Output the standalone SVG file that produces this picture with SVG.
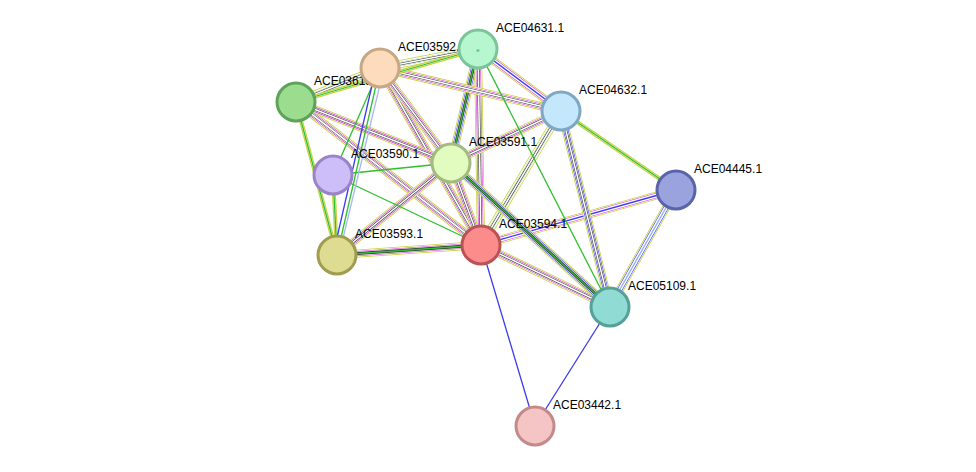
<svg xmlns="http://www.w3.org/2000/svg" xmlns:xlink="http://www.w3.org/1999/xlink" width="976" height="472" viewBox="0 0 976 472">
<style>
text{font-family:"Liberation Sans",Arial,sans-serif;font-size:12px;fill:#000}
line,path{fill:none}
.y{stroke:#c8d23c;stroke-width:8}
.w1{stroke:#fff;stroke-width:6.4}
.m{stroke:#d23cd2;stroke-width:5.2}
.b{stroke:#3a3af0;stroke-width:5.2}
.w2{stroke:#fff;stroke-width:4}
.k{stroke:#333;stroke-width:2.8}
.w3{stroke:#fff;stroke-width:1.6}
.g{stroke:#2fbf2f;stroke-width:4}
.gs{stroke:#2fbf2f;stroke-width:1.3}
.bs{stroke:#3a3af0;stroke-width:1.3}
.ys{stroke:#c8d23c;stroke-width:4}
circle{stroke-width:3}
</style>
<defs>
<line id="e1" x1="380" y1="68" x2="481" y2="245"/>
<line id="e2" x1="380" y1="68" x2="451" y2="163"/>
<line id="e3" x1="296" y1="102" x2="481" y2="245"/>
<line id="e4" x1="296" y1="102" x2="380" y2="68"/>
<line id="e5" x1="478" y1="49" x2="451" y2="163"/>
<line id="e6" x1="478" y1="49" x2="481" y2="245"/>
<line id="e7" x1="451" y1="163" x2="481" y2="245"/>
<line id="e8" x1="451" y1="163" x2="337" y2="255"/>
<line id="e9" x1="337" y1="255" x2="481" y2="245"/>
<line id="e10" x1="481" y1="245" x2="610" y2="307"/>
<line id="e11" x1="561" y1="111" x2="481" y2="245"/>
<line id="e12" x1="561" y1="111" x2="451" y2="163"/>
<line id="e13" x1="676" y1="190" x2="481" y2="245"/>
<line id="e14" x1="478" y1="49" x2="561" y2="111"/>
<line id="e15" x1="380" y1="68" x2="561" y2="111"/>
<line id="e16" x1="380" y1="68" x2="478" y2="49"/>
<line id="e17" x1="561" y1="111" x2="610" y2="307"/>
<line id="e18" x1="676" y1="190" x2="610" y2="307"/>
<line id="e19" x1="451" y1="163" x2="610" y2="307"/>
<line id="e20" x1="296" y1="102" x2="451" y2="163"/>
</defs>
<g id="connectors">
<!-- full bundles (magenta) -->
<use xlink:href="#e1" class="y"/><use xlink:href="#e1" class="w1"/><use xlink:href="#e1" class="m"/><use xlink:href="#e1" class="w2"/><use xlink:href="#e1" class="k"/><use xlink:href="#e1" class="w3"/>
<use xlink:href="#e2" class="y"/><use xlink:href="#e2" class="w1"/><use xlink:href="#e2" class="m"/><use xlink:href="#e2" class="w2"/><use xlink:href="#e2" class="k"/><use xlink:href="#e2" class="w3"/>
<use xlink:href="#e3" class="y"/><use xlink:href="#e3" class="w1"/><use xlink:href="#e3" class="m"/><use xlink:href="#e3" class="w2"/><use xlink:href="#e3" class="k"/><use xlink:href="#e3" class="w3"/>
<use xlink:href="#e4" class="y"/><use xlink:href="#e4" class="w1"/><use xlink:href="#e4" class="g"/><use xlink:href="#e4" class="w2"/><use xlink:href="#e4" class="k"/><use xlink:href="#e4" class="w3"/>
<use xlink:href="#e5" class="y"/><use xlink:href="#e5" class="w1"/><use xlink:href="#e5" class="b"/><use xlink:href="#e5" class="w2"/><use xlink:href="#e5" class="k"/><use xlink:href="#e5" class="gs"/>
<use xlink:href="#e6" class="y"/><use xlink:href="#e6" class="w1"/><use xlink:href="#e6" class="m"/><use xlink:href="#e6" class="w2"/><use xlink:href="#e6" class="k"/><use xlink:href="#e6" class="w3"/>
<use xlink:href="#e7" class="y"/><use xlink:href="#e7" class="w1"/><use xlink:href="#e7" class="m"/><use xlink:href="#e7" class="w2"/><use xlink:href="#e7" class="k"/><use xlink:href="#e7" class="w3"/>
<use xlink:href="#e8" class="y"/><use xlink:href="#e8" class="w1"/><use xlink:href="#e8" class="m"/><use xlink:href="#e8" class="w2"/><use xlink:href="#e8" class="k"/><use xlink:href="#e8" class="w3"/>
<use xlink:href="#e9" class="y"/><use xlink:href="#e9" class="w1"/><use xlink:href="#e9" class="m"/><use xlink:href="#e9" class="w2"/><use xlink:href="#e9" class="k"/><use xlink:href="#e9" class="gs"/>
<use xlink:href="#e10" class="y"/><use xlink:href="#e10" class="w1"/><use xlink:href="#e10" class="m"/><use xlink:href="#e10" class="w2"/><use xlink:href="#e10" class="k"/><use xlink:href="#e10" class="w3"/>
<use xlink:href="#e11" class="y"/><use xlink:href="#e11" class="w1"/><use xlink:href="#e11" class="g"/><use xlink:href="#e11" class="w2"/><use xlink:href="#e11" class="k"/><use xlink:href="#e11" class="w3"/>
<use xlink:href="#e12" class="y"/><use xlink:href="#e12" class="w1"/><use xlink:href="#e12" class="m"/><use xlink:href="#e12" class="w2"/><use xlink:href="#e12" class="k"/><use xlink:href="#e12" class="w3"/>
<use xlink:href="#e13" class="y"/><use xlink:href="#e13" class="w1"/><use xlink:href="#e13" class="m"/><use xlink:href="#e13" class="w2"/><use xlink:href="#e13" class="bs"/>
<use xlink:href="#e14" class="y"/><use xlink:href="#e14" class="w1"/><use xlink:href="#e14" class="m"/><use xlink:href="#e14" class="w2"/><use xlink:href="#e14" class="bs"/>
<use xlink:href="#e15" class="y"/><use xlink:href="#e15" class="w1"/><use xlink:href="#e15" class="m"/><use xlink:href="#e15" class="w2"/><use xlink:href="#e15" class="k"/><use xlink:href="#e15" class="w3"/>
<use xlink:href="#e16" class="y"/><use xlink:href="#e16" class="w1"/><use xlink:href="#e16" class="g"/><use xlink:href="#e16" class="w2"/><use xlink:href="#e16" class="k"/><use xlink:href="#e16" class="w3"/>
<use xlink:href="#e17" class="y"/><use xlink:href="#e17" class="w1"/><use xlink:href="#e17" class="b"/><use xlink:href="#e17" class="w2"/><use xlink:href="#e17" class="k"/><use xlink:href="#e17" class="w3"/>
<use xlink:href="#e18" class="y"/><use xlink:href="#e18" class="w1"/><use xlink:href="#e18" class="b"/><use xlink:href="#e18" class="w2"/><use xlink:href="#e18" class="bs" style="stroke:#8fb0f0"/>
<use xlink:href="#e19" class="y"/><use xlink:href="#e19" class="w1"/><use xlink:href="#e19" class="b"/><use xlink:href="#e19" class="w2"/><use xlink:href="#e19" class="k"/><use xlink:href="#e19" class="gs"/>
<use xlink:href="#e20" class="y"/><use xlink:href="#e20" class="w1"/><use xlink:href="#e20" class="m"/><use xlink:href="#e20" class="w2"/><use xlink:href="#e20" class="k"/><use xlink:href="#e20" class="w3"/>
<!-- green+yellow -->
<line x1="561" y1="111" x2="676" y2="190" class="ys"/><line x1="561" y1="111" x2="676" y2="190" class="w3"/><line x1="561" y1="111" x2="676" y2="190" class="gs"/>
<line x1="296" y1="102" x2="337" y2="255" class="ys"/><line x1="296" y1="102" x2="337" y2="255" class="w3"/><line x1="296" y1="102" x2="337" y2="255" class="gs"/>
<line x1="333" y1="175" x2="337" y2="255" class="ys"/><line x1="333" y1="175" x2="337" y2="255" class="w3"/><line x1="333" y1="175" x2="337" y2="255" class="gs"/>
<line x1="296" y1="102" x2="478" y2="49" class="ys"/><line x1="296" y1="102" x2="478" y2="49" class="w3"/><line x1="296" y1="102" x2="478" y2="49" class="gs"/>
<line x1="478" y1="49" x2="610" y2="307" class="gs"/>
<!-- singles -->
<line x1="333" y1="175" x2="481" y2="245" class="gs"/>
<line x1="333" y1="175" x2="451" y2="163" class="gs"/>
<line x1="380" y1="68" x2="333" y2="175" class="gs"/>
<line x1="380" y1="68" x2="337" y2="255" class="gs"/>
<line x1="376" y1="68" x2="333" y2="255" class="bs"/>
<line x1="384" y1="68" x2="339" y2="255" class="bs" style="stroke:#a8b8f8"/>
<line x1="481" y1="245" x2="535" y2="426" class="bs"/>
<line x1="610" y1="307" x2="535" y2="426" class="bs"/>
</g>
<g id="ACE03613.1"><circle cx="296" cy="102" r="19" fill="#9bdc8e" stroke="#5fa35a"/><text x="314" y="85">ACE03613.1</text></g>
<g id="ACE03590.1"><circle cx="333" cy="175" r="19" fill="#cdbdf8" stroke="#9a84c9"/><text x="351" y="158">ACE03590.1</text></g>
<g id="ACE03593.1"><circle cx="337" cy="255" r="19" fill="#dedc90" stroke="#a09c50"/><text x="355" y="238">ACE03593.1</text></g>
<g id="ACE03592.1"><circle cx="380" cy="68" r="19" fill="#fddcbe" stroke="#c8a784"/><text x="398" y="51">ACE03592.1</text></g>
<g id="ACE04631.1"><circle cx="478" cy="49" r="19" fill="#b6f7cf" stroke="#7cc49b"/><text x="496" y="32">ACE04631.1</text><text x="478" y="52" text-anchor="middle" style="font-size:6px;fill:#2a8">e</text></g>
<g id="ACE04632.1"><circle cx="561" cy="111" r="19" fill="#c4e7fc" stroke="#7ea8c4"/><text x="579" y="94">ACE04632.1</text></g>
<g id="ACE03591.1"><circle cx="451" cy="163" r="19" fill="#e2fbbe" stroke="#a3bb80"/><text x="469" y="146">ACE03591.1</text></g>
<g id="ACE04445.1"><circle cx="676" cy="190" r="19" fill="#9ba3df" stroke="#5a64a8"/><text x="694" y="173">ACE04445.1</text></g>
<g id="ACE03594.1"><circle cx="481" cy="245" r="19" fill="#fc8c8c" stroke="#b85454"/><text x="499" y="228">ACE03594.1</text></g>
<g id="ACE05109.1"><circle cx="610" cy="307" r="19" fill="#90dcd4" stroke="#56a098"/><text x="628" y="290">ACE05109.1</text></g>
<g id="ACE03442.1"><circle cx="535" cy="426" r="19" fill="#f5c4c4" stroke="#c48a8a"/><text x="553" y="409">ACE03442.1</text></g>
</svg>
